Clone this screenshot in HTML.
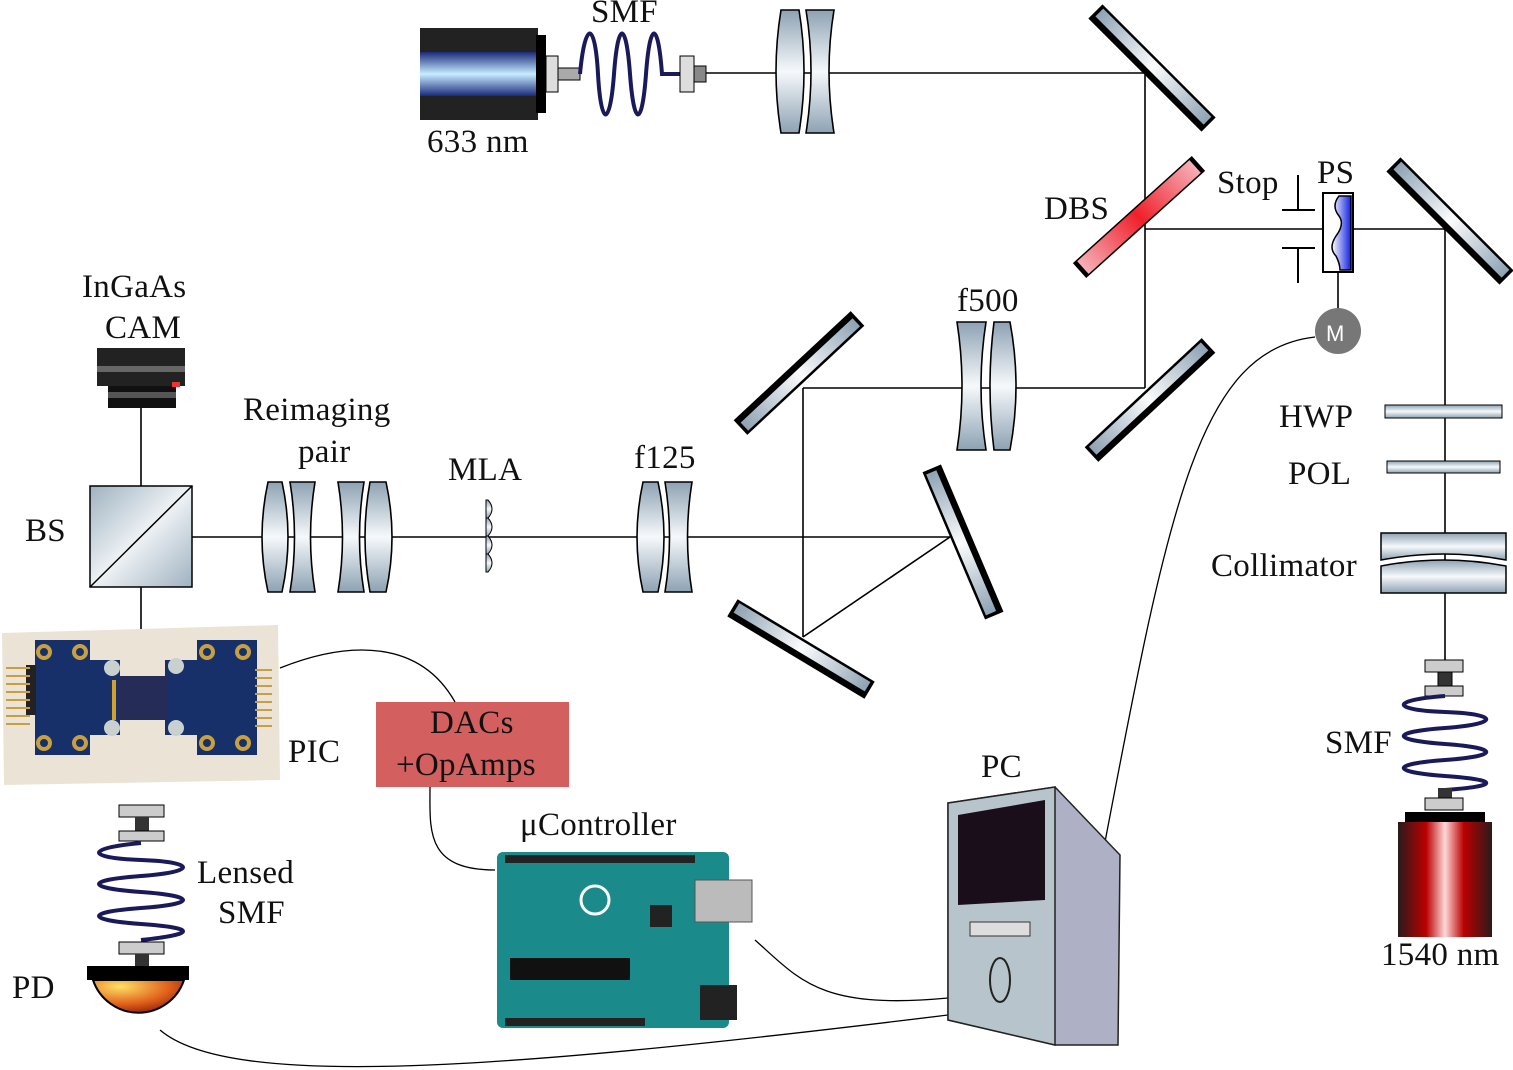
<!DOCTYPE html>
<html><head><meta charset="utf-8"><style>
html,body{margin:0;padding:0;background:#fff;}
svg{display:block;}
text{font-family:"Liberation Serif",serif;font-size:33px;letter-spacing:0.3px;fill:#111;}
</style></head><body>
<svg width="1513" height="1070" viewBox="0 0 1513 1070" xmlns="http://www.w3.org/2000/svg">
<defs>
<linearGradient id="lensv" x1="0" x2="0" y1="0" y2="1">
<stop offset="0" stop-color="#8da2b3"/><stop offset="0.5" stop-color="#f6f9fb"/><stop offset="1" stop-color="#8da2b3"/></linearGradient>
<linearGradient id="mir" x1="0" x2="1"><stop offset="0" stop-color="#8da2b3"/><stop offset="0.5" stop-color="#fbfcfd"/><stop offset="1" stop-color="#8da2b3"/></linearGradient>
<linearGradient id="redm" x1="0" x2="1"><stop offset="0" stop-color="#f6b0b8"/><stop offset="0.5" stop-color="#f0202a"/><stop offset="1" stop-color="#f6b0b8"/></linearGradient>
<linearGradient id="blue" x1="0" x2="0" y1="0" y2="1"><stop offset="0" stop-color="#1a2a7a"/><stop offset="0.5" stop-color="#c8ecff"/><stop offset="1" stop-color="#1a2a7a"/></linearGradient>
<linearGradient id="red" x1="0" x2="1"><stop offset="0" stop-color="#2a1a1a"/><stop offset="0.3" stop-color="#b00"/><stop offset="0.5" stop-color="#ffd8d8"/><stop offset="0.7" stop-color="#b00"/><stop offset="1" stop-color="#2a1a1a"/></linearGradient>
<linearGradient id="bs" x1="0" y1="0" x2="1" y2="1"><stop offset="0" stop-color="#9fb2c0"/><stop offset="0.5" stop-color="#eef2f5"/><stop offset="1" stop-color="#9fb2c0"/></linearGradient>
<linearGradient id="psb" x1="0" x2="1"><stop offset="0" stop-color="#fff"/><stop offset="1" stop-color="#1020e0"/></linearGradient>
<radialGradient id="pd" cx="0.3" cy="0.2" r="0.9"><stop offset="0" stop-color="#ffe066"/><stop offset="0.6" stop-color="#e0601a"/><stop offset="1" stop-color="#8a1a0a"/></radialGradient>
<g id="mirror"><rect x="-80" y="-10" width="160" height="20" fill="#000"/><rect x="-77" y="-8" width="154" height="12" fill="url(#mir)" stroke="#000" stroke-width="1"/></g>
</defs>

<g stroke="#000" stroke-width="1.6" fill="none">
<line x1="705" y1="73" x2="1145" y2="73"/>
<line x1="1145" y1="73" x2="1145" y2="388"/>
<line x1="1145" y1="229" x2="1445" y2="229"/>
<line x1="1445" y1="229" x2="1445" y2="660"/>
<line x1="803" y1="388" x2="1145" y2="388"/>
<line x1="803" y1="388" x2="803" y2="637"/>
<line x1="192" y1="537" x2="950" y2="537"/>
<line x1="950" y1="537" x2="803" y2="637"/>
<line x1="141" y1="408" x2="141" y2="486"/>
<line x1="141" y1="587" x2="141" y2="630"/>
<line x1="1338" y1="272" x2="1338" y2="310"/>
</g>

<rect x="420" y="28" width="118" height="92" fill="#222"/>
<rect x="420" y="52" width="118" height="44" fill="url(#blue)"/>
<rect x="536" y="35" width="10" height="78" fill="#000"/>
<rect x="546" y="56" width="12" height="36" fill="#ddd" stroke="#000"/>
<rect x="558" y="68" width="22" height="12" fill="#aaa" stroke="#000"/>
<path d="M580,74 C585,20 595,20 598,74 S610,128 614,74 S626,20 630,74 S642,128 646,74 S658,20 662,74 L680,74" fill="none" stroke="#1a1a5a" stroke-width="4"/>
<rect x="680" y="56" width="14" height="36" fill="#ddd" stroke="#000"/>
<rect x="694" y="66" width="12" height="16" fill="#888" stroke="#000"/>
<text x="591" y="22">SMF</text>
<text x="427" y="152">633 nm</text>

<g fill="url(#lensv)" stroke="#000" stroke-width="1.6">
<path d="M781,10 H799 Q809,71 799,133 H781 Q771,71 781,10Z"/>
<path d="M806,10 H834 Q824,71 834,133 H806 Q816,71 806,10Z"/>
<path d="M957,322 H986 Q976,386 986,450 H957 Q967,386 957,322Z"/>
<path d="M994,322 H1010 Q1022,386 1010,450 H994 Q986,386 994,322Z"/>
<path d="M268,482 H282 Q294,537 282,592 H268 Q256,537 268,482Z"/>
<path d="M290,482 H315 Q306,537 315,592 H290 Q299,537 290,482Z"/>
<path d="M338,482 H364 Q355,537 364,592 H338 Q347,537 338,482Z"/>
<path d="M370,482 H386 Q398,537 386,592 H370 Q360,537 370,482Z"/>
<path d="M643,482 H658 Q670,537 658,592 H643 Q631,537 643,482Z"/>
<path d="M665,482 H692 Q683,537 692,592 H665 Q674,537 665,482Z"/>
</g>
<text x="957" y="311">f500</text>
<text x="634" y="468">f125</text>
<text x="448" y="480">MLA</text>
<text x="243" y="420">Reimaging</text>
<text x="298" y="462">pair</text>
<g fill="url(#lensv)" stroke="#000" stroke-width="1">
<path d="M486,500 h2 q8,9 0,18 h-2z"/><path d="M486,518 h2 q8,9 0,18 h-2z"/><path d="M486,536 h2 q8,9 0,18 h-2z"/><path d="M486,554 h2 q8,9 0,18 h-2z"/>
</g>

<use href="#mirror" transform="translate(1152,68) rotate(45)"/>
<use href="#mirror" transform="translate(1450,221) rotate(45)"/>
<use href="#mirror" transform="translate(1150,400) rotate(-43)"/>
<use href="#mirror" transform="translate(799,373) rotate(-43) scale(1,-1)"/>
<use href="#mirror" transform="translate(963,542) rotate(67) scale(1,-1)"/>
<use href="#mirror" transform="translate(801,649) rotate(31)"/>
<g transform="translate(1139,217) rotate(-42)"><rect x="-80" y="-10" width="160" height="20" fill="#000"/><rect x="-76" y="-9" width="152" height="18" fill="url(#redm)" stroke="#000" stroke-width="1"/></g>

<g stroke="#000" stroke-width="2">
<line x1="1298" y1="175" x2="1298" y2="210"/><line x1="1282" y1="210" x2="1315" y2="210"/>
<line x1="1298" y1="248" x2="1298" y2="283"/><line x1="1282" y1="248" x2="1315" y2="248"/>
</g>
<rect x="1323" y="193" width="30" height="79" fill="#fff" stroke="#000" stroke-width="2"/>
<path d="M1339,196 q-8,10 0,20 q6,8 -3,20 q-8,12 0,20 q4,8 4,14 L1351,270 L1351,196z" fill="url(#psb)" stroke="#000" stroke-width="1.5"/>
<circle cx="1338" cy="331" r="23" fill="#777"/>
<text x="1326" y="341" style="font-family:'Liberation Sans',sans-serif;font-size:22px;letter-spacing:0;fill:#fff">M</text>
<text x="1217" y="193">Stop</text>
<text x="1317" y="183">PS</text>
<text x="1044" y="219">DBS</text>

<rect x="1385" y="405" width="117" height="13" fill="url(#lensv)" stroke="#000"/>
<rect x="1387" y="461" width="113" height="12" fill="url(#lensv)" stroke="#000"/>
<path d="M1381,533 h125 v27 q-62,-12 -125,0z" fill="url(#lensv)" stroke="#000" stroke-width="1.5"/>
<path d="M1381,566 q62,-12 125,0 v27 h-125z" fill="url(#lensv)" stroke="#000" stroke-width="1.5"/>
<text x="1279" y="427">HWP</text>
<text x="1288" y="484">POL</text>
<text x="1211" y="576">Collimator</text>

<rect x="1425" y="660" width="38" height="12" fill="#ccc" stroke="#000"/>
<rect x="1438" y="672" width="14" height="14" fill="#333" stroke="#000"/>
<rect x="1425" y="686" width="38" height="10" fill="#ccc" stroke="#000"/>
<path d="M1445,696 C1390,700 1390,710 1445,712 S1500,724 1445,728 S1390,740 1445,744 S1500,756 1445,760 S1390,772 1445,776 S1500,786 1445,790" fill="none" stroke="#1a1a5a" stroke-width="4"/>
<rect x="1438" y="788" width="14" height="12" fill="#333"/>
<rect x="1425" y="798" width="38" height="12" fill="#ccc" stroke="#000"/>
<rect x="1405" y="812" width="80" height="12" fill="#000"/>
<rect x="1398" y="822" width="94" height="115" fill="url(#red)"/>
<text x="1381" y="965">1540 nm</text>
<text x="1325" y="753">SMF</text>

<rect x="90" y="486" width="102" height="101" fill="url(#bs)" stroke="#000" stroke-width="1.5"/>
<line x1="90" y1="587" x2="192" y2="486" stroke="#000" stroke-width="1.5"/>
<text x="25" y="541">BS</text>
<rect x="97" y="348" width="88" height="38" fill="#222"/>
<rect x="97" y="366" width="88" height="6" fill="#666"/>
<rect x="108" y="386" width="68" height="22" fill="#111"/>
<rect x="108" y="392" width="68" height="6" fill="#555"/>
<rect x="172" y="382" width="8" height="5" fill="#e33"/>
<text x="82" y="297">InGaAs</text>
<text x="105" y="338">CAM</text>

<path d="M2,633 L278,625 L280,780 L4,785 Z" fill="#ebe4d6"/>
<rect x="35" y="640" width="55" height="115" fill="#17306a"/>
<rect x="35" y="660" width="85" height="75" fill="#17306a"/>
<rect x="197" y="640" width="60" height="115" fill="#17306a"/>
<rect x="165" y="660" width="40" height="75" fill="#17306a"/>
<rect x="118" y="676" width="50" height="44" fill="#262c58"/>
<rect x="112" y="680" width="4" height="40" fill="#d0a030"/>
<g fill="none" stroke="#c9a040" stroke-width="4">
<circle cx="44" cy="652" r="6"/><circle cx="80" cy="652" r="6"/><circle cx="44" cy="743" r="6"/><circle cx="80" cy="743" r="6"/>
<circle cx="207" cy="652" r="6"/><circle cx="243" cy="652" r="6"/><circle cx="207" cy="743" r="6"/><circle cx="243" cy="743" r="6"/>
</g>
<g fill="#c8d0d0"><circle cx="112" cy="668" r="8"/><circle cx="112" cy="728" r="8"/><circle cx="176" cy="666" r="8"/><circle cx="176" cy="728" r="8"/></g>
<rect x="26" y="665" width="10" height="50" fill="#222"/>
<g stroke="#c9a040" stroke-width="2">
<line x1="6" y1="668" x2="30" y2="668"/><line x1="6" y1="676" x2="30" y2="676"/><line x1="6" y1="684" x2="30" y2="684"/><line x1="6" y1="692" x2="30" y2="692"/><line x1="6" y1="700" x2="30" y2="700"/><line x1="6" y1="708" x2="30" y2="708"/><line x1="6" y1="716" x2="30" y2="716"/><line x1="6" y1="724" x2="30" y2="724"/>
<line x1="255" y1="670" x2="272" y2="670"/><line x1="255" y1="678" x2="272" y2="678"/><line x1="255" y1="686" x2="272" y2="686"/><line x1="255" y1="694" x2="272" y2="694"/><line x1="255" y1="702" x2="272" y2="702"/><line x1="255" y1="710" x2="272" y2="710"/><line x1="255" y1="718" x2="272" y2="718"/><line x1="255" y1="726" x2="272" y2="726"/>
</g>
<text x="288" y="762">PIC</text>

<rect x="376" y="702" width="193" height="85" fill="#d45f5f"/>
<text x="430" y="733">DACs</text>
<text x="396" y="775">+OpAmps</text>

<g fill="none" stroke="#000" stroke-width="1.3">
<path d="M280,668 C350,640 420,640 455,702"/>
<path d="M430,787 C430,830 425,870 495,870"/>
<path d="M755,940 C800,980 820,1010 948,998"/>
<path d="M1315,337 C1200,350 1170,500 1105,842"/>
<path d="M160,1030 C230,1090 500,1070 948,1015"/>
</g>

<rect x="119" y="805" width="45" height="12" fill="#ccc" stroke="#000"/>
<rect x="135" y="817" width="14" height="14" fill="#333"/>
<rect x="119" y="831" width="45" height="10" fill="#ccc" stroke="#000"/>
<path d="M141,843 C85,848 85,858 141,860 S197,872 141,876 S85,888 141,892 S197,904 141,908 S85,920 141,924 S197,934 141,940" fill="none" stroke="#1a1a5a" stroke-width="4"/>
<rect x="119" y="942" width="45" height="12" fill="#ccc" stroke="#000"/>
<rect x="135" y="954" width="14" height="12" fill="#333"/>
<rect x="87" y="966" width="102" height="14" fill="#000"/>
<path d="M93,980 a48,48 0 0 0 91,0z" fill="url(#pd)" stroke="#000" stroke-width="2"/>
<text x="12" y="998">PD</text>
<text x="197" y="883">Lensed</text>
<text x="218" y="923">SMF</text>

<rect x="497" y="852" width="232" height="176" rx="6" fill="#1a8a8a"/>
<rect x="505" y="855" width="190" height="8" fill="#222"/>
<rect x="505" y="1018" width="140" height="8" fill="#222"/>
<rect x="695" y="880" width="57" height="42" fill="#bbb" stroke="#555"/>
<rect x="700" y="985" width="37" height="35" fill="#222"/>
<rect x="510" y="958" width="120" height="22" fill="#111"/>
<rect x="650" y="905" width="22" height="22" fill="#222"/>
<circle cx="595" cy="900" r="14" fill="none" stroke="#fff" stroke-width="3"/>
<text x="520" y="835">μController</text>

<path d="M948,803 L1055,787 L1120,855 L1118,1045 L1055,1045 L948,1020 z" fill="#aeb0c6" stroke="#222" stroke-width="1.5"/>
<path d="M948,803 L1055,787 L1055,1045 L948,1020 z" fill="#b8c4cc" stroke="#222" stroke-width="1.5"/>
<path d="M958,815 L1045,800 L1045,900 L958,905 z" fill="#1a0e1a"/>
<rect x="970" y="922" width="60" height="14" fill="#ddd" stroke="#333"/>
<ellipse cx="1000" cy="980" rx="10" ry="22" fill="#b8c4cc" stroke="#222" stroke-width="2"/>
<text x="981" y="777">PC</text>
</svg>
</body></html>
